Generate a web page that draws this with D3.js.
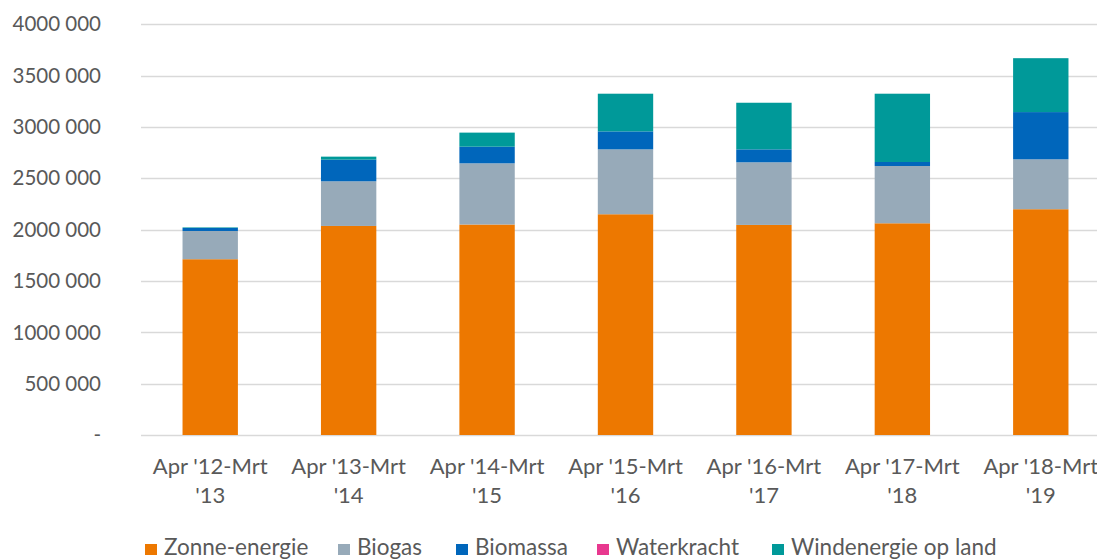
<!DOCTYPE html>
<html>
<head>
<meta charset="utf-8">
<script src="https://cdn.jsdelivr.net/npm/d3@7/dist/d3.min.js"></script>
<style>
  body { margin: 0; background: #fff; }
  svg { display: block; font-family: Lato, "Open Sans", sans-serif; }
</style>
</head>
<body>
<div id="chart"></div>
<script>
// periods on the x axis (two lines each)
var categories = ["Apr '12-Mrt '13", "Apr '13-Mrt '14", "Apr '14-Mrt '15", "Apr '15-Mrt '16",
                  "Apr '16-Mrt '17", "Apr '17-Mrt '18", "Apr '18-Mrt '19"];
var labelLine1 = ["Apr '12-Mrt", "Apr '13-Mrt", "Apr '14-Mrt", "Apr '15-Mrt", "Apr '16-Mrt", "Apr '17-Mrt", "Apr '18-Mrt"];
var labelLine2 = ["'13", "'14", "'15", "'16", "'17", "'18", "'19"];

// series values
var zonne     = [1712000, 2036000, 2050000, 2150000, 2046000, 2062000, 2199000];
var biogas    = [ 275000,  435000,  596000,  632000,  610000,  558000,  486000];
var biomassa  = [  30000,  211000,  162000,  175000,  126000,   39000,  460000];
var water     = [      0,       0,       0,       0,       0,       0,       0];
var wind      = [   5000,   29000,  137000,  367000,  454000,  665000,  525000];

var seriesNames = ["Zonne-energie", "Biogas", "Biomassa", "Waterkracht", "Windenergie op land"];
var seriesColors = ["#ED7800", "#97AAB9", "#0066BB", "#E8388F", "#009999"];

var yTicks = [0, 500000, 1000000, 1500000, 2000000, 2500000, 3000000, 3500000, 4000000];
var yTickLabels = ["-", "500 000", "1000 000", "1500 000", "2000 000", "2500 000", "3000 000", "3500 000", "4000 000"];

var width = 1097, height = 560;
var svg = d3.select("#chart").append("svg")
    .attr("width", width)
    .attr("height", height);

var data = categories.map(function (c, i) {
    return { cat: c, "Zonne-energie": zonne[i], "Biogas": biogas[i], "Biomassa": biomassa[i],
             "Waterkracht": water[i], "Windenergie op land": wind[i] };
});
var stacked = d3.stack().keys(seriesNames)(data);

var x = d3.scaleBand()
    .domain(categories)
    .range([141, 1110])
    .paddingInner(0.6)
    .paddingOuter(0.3);
var y = d3.scaleLinear()
    .domain([0, 4000000])
    .range([435, 24.3]);

var color = d3.scaleOrdinal().domain(seriesNames).range(seriesColors);

// gridlines
svg.append("g").selectAll("line")
    .data(yTicks)
    .enter().append("line")
    .attr("x1", 141).attr("x2", width)
    .attr("y1", function (d) { return Math.round(y(d)) + 0.5; })
    .attr("y2", function (d) { return Math.round(y(d)) + 0.5; })
    .attr("stroke", "#D9D9D9")
    .attr("stroke-width", 1.5);

// y labels
svg.append("g").selectAll("text")
    .data(yTicks)
    .enter().append("text")
    .attr("x", 101)
    .attr("y", function (d) { return y(d); })
    .attr("dy", "0.35em")
    .attr("text-anchor", "end")
    .attr("fill", "#595959")
    .style("font-size", "20.5px")
    .text(function (d, i) { return yTickLabels[i]; });

// bars
svg.append("g").selectAll("g")
    .data(stacked)
    .enter().append("g")
    .attr("fill", function (d) { return color(d.key); })
    .selectAll("rect")
    .data(function (d) { return d; })
    .enter().append("rect")
    .attr("x", function (d) { return x(d.data.cat); })
    .attr("width", x.bandwidth())
    .attr("y", function (d) { return y(d[1]); })
    .attr("height", function (d) { return y(d[0]) - y(d[1]); });

// x labels
var xl = svg.append("g").selectAll("text")
    .data(categories)
    .enter().append("text")
    .attr("x", function (d) { return x(d) + x.bandwidth() / 2; })
    .attr("text-anchor", "middle")
    .attr("fill", "#595959")
    .style("font-size", "22px");
xl.append("tspan")
    .attr("x", function (d) { return x(d) + x.bandwidth() / 2; })
    .attr("y", 474)
    .text(function (d, i) { return labelLine1[i]; });
xl.append("tspan")
    .attr("x", function (d) { return x(d) + x.bandwidth() / 2; })
    .attr("y", 503)
    .text(function (d, i) { return labelLine2[i]; });

// legend
var legendX = [145, 338, 456, 597, 772];
var legend = svg.append("g").selectAll("g")
    .data(seriesNames)
    .enter().append("g")
    .attr("transform", function (d, i) { return "translate(" + legendX[i] + ",544)"; });
legend.append("rect")
    .attr("width", 12).attr("height", 11)
    .attr("fill", function (d) { return color(d); });
legend.append("text")
    .attr("x", 19)
    .attr("y", 11)
    .attr("fill", "#595959")
    .style("font-size", "22.5px")
    .text(function (d) { return d; });
</script>
</body>
</html>
